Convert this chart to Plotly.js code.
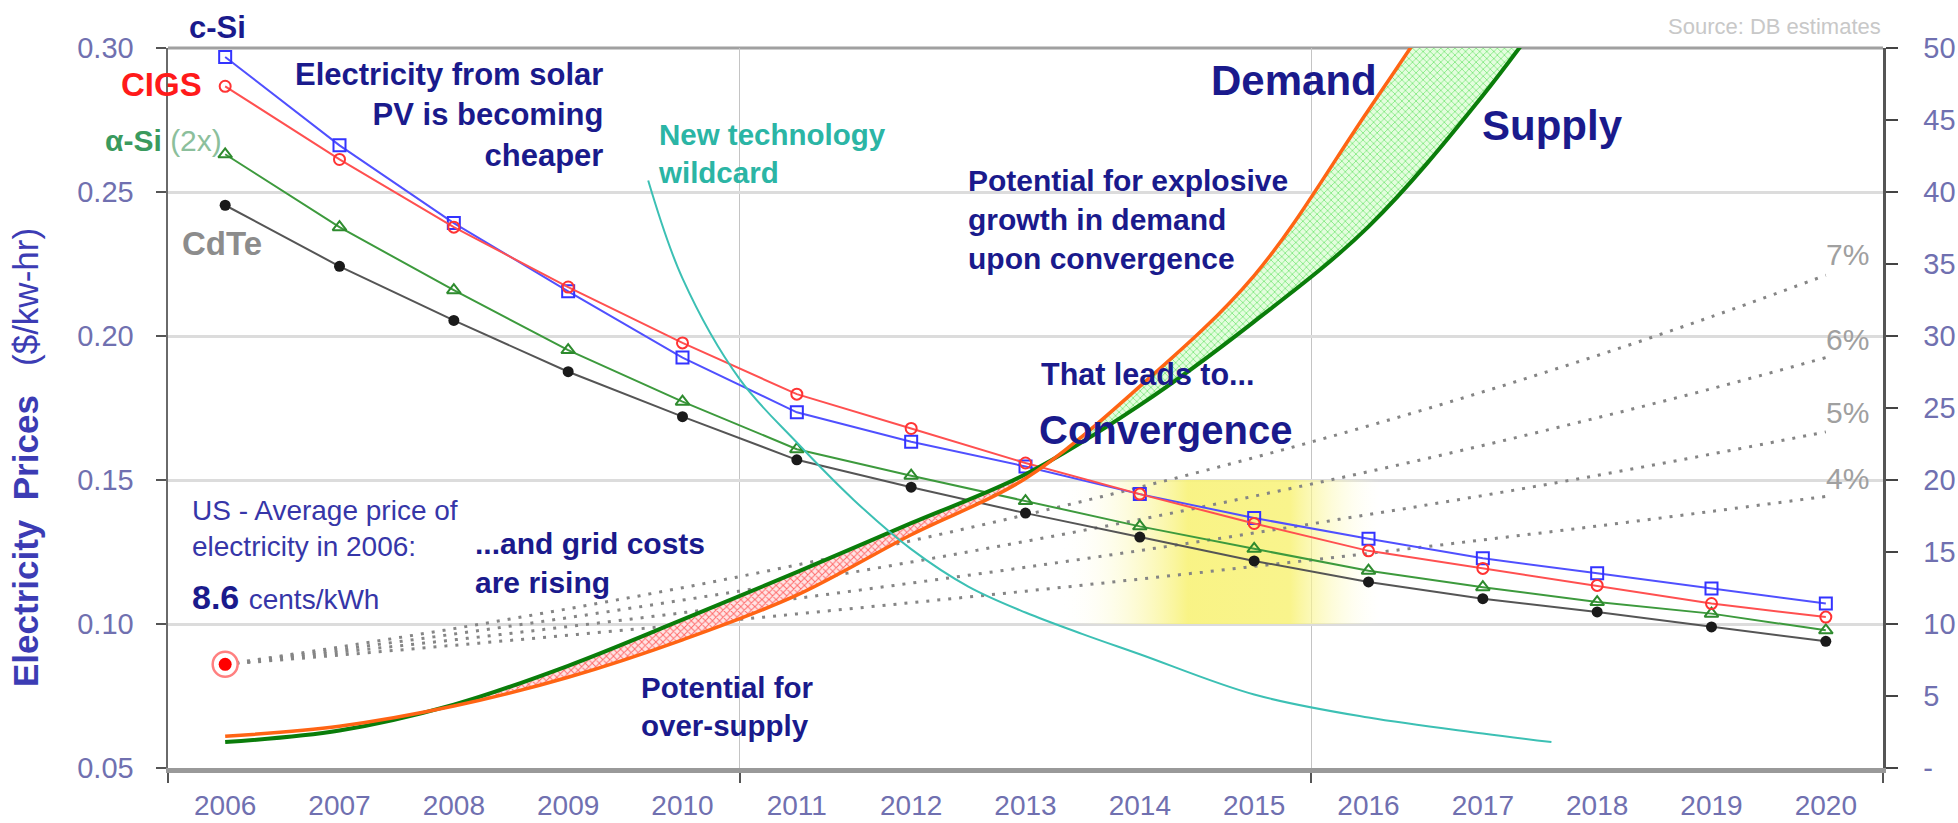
<!DOCTYPE html>
<html><head><meta charset="utf-8">
<script src="https://cdn.plot.ly/plotly-3.0.1.min.js"></script>
<style>html,body{margin:0;padding:0;background:#fff;}#chart{width:1958px;height:823px;}</style>
</head><body><div id="chart"></div>
<script>
// ---------------- DATA ----------------
const years = [2006,2007,2008,2009,2010,2011,2012,2013,2014,2015,2016,2017,2018,2019,2020];
const yearLabels = ['2006','2007','2008','2009','2010','2011','2012','2013','2014','2015','2016','2017','2018','2019','2020'];
const xGridTicks = [2005.5, 2010.5, 2015.5, 2020.5];

// Electricity prices ($/kw-hr), left axis
const cSi  = [0.2969,0.2662,0.2392,0.2155,0.1925,0.1735,0.1633,0.1547,0.1451,0.1368,0.1296,0.1228,0.1176,0.1123,0.1071];
const cigs = [0.2867,0.2613,0.2378,0.2170,0.1976,0.1798,0.1679,0.1559,0.1451,0.1349,0.1254,0.1193,0.1134,0.1071,0.1024];
const aSi  = [0.2631,0.2378,0.2159,0.1951,0.1772,0.1607,0.1515,0.1427,0.1339,0.1261,0.1185,0.1128,0.1076,0.1036,0.0978];
const cdTe = [0.2454,0.2242,0.2054,0.1876,0.1720,0.1570,0.1475,0.1385,0.1302,0.1219,0.1146,0.1088,0.1042,0.0990,0.0940];

// US average price 2006 and grid-cost growth paths (left axis)
const usYear = [2006];
const usPrice = [0.086];
const grid4 = [0.0860,0.0892,0.0926,0.0961,0.0997,0.1035,0.1074,0.1114,0.1156,0.1200,0.1245,0.1292,0.1340,0.1391,0.1443];
const grid5 = [0.0860,0.0902,0.0945,0.0991,0.1039,0.1089,0.1142,0.1197,0.1255,0.1316,0.1380,0.1446,0.1516,0.1590,0.1667];
const grid6 = [0.0860,0.0911,0.0965,0.1022,0.1083,0.1147,0.1215,0.1287,0.1363,0.1444,0.1529,0.1620,0.1716,0.1817,0.1925];
const grid7 = [0.0860,0.0920,0.0984,0.1053,0.1126,0.1205,0.1289,0.1379,0.1475,0.1578,0.1688,0.1806,0.1932,0.2067,0.2211];
const growthLabels = ['4%','5%','6%','7%'];

// Convergence zone (yellow glow)
const glowX = [2013.3, 2016.1];
const glowY = [0.10, 0.15];

// Demand / supply (right axis)
const supplyYears = [2006,2007,2008,2009,2010,2011,2012,2013,2014,2015,2016,2017,2018];
const supply      = [1.8, 2.6, 4.4, 7.1, 10.3, 13.6, 17.0, 20.4, 25.2, 31.0, 37.6, 46.7, 57.5];
const demandYears = [2006,2007,2008,2009,2010,2011,2012,2013,2014,2015,2016,2017];
const demand      = [2.2, 2.9, 4.3, 6.3, 8.9, 12.0, 16.2, 20.1, 26.5, 34.2, 45.7, 57.5];

// New technology wildcard (right axis)
const wildX = [2009.7, 2010, 2010.5, 2011, 2011.5, 2012, 2012.5, 2013, 2013.5, 2014, 2015, 2016, 2017, 2017.6];
const wildY = [40.8, 34.0, 27.0, 22.6, 18.6, 15.2, 12.6, 10.8, 9.3, 7.9, 5.1, 3.5, 2.4, 1.8];

const leftTicks = [0.05,0.10,0.15,0.20,0.25,0.30];
const rightTicks = [0,5,10,15,20,25,30,35,40,45,50];
const rightTickLabels = ['-','5','10','15','20','25','30','35','40','45','50'];

// ---------------- LAYOUT HELPERS ----------------
const L = 168, R = 1883, T = 48, B = 768;
const W = R - L, H = B - T;
const px = v => (v - L) / W;
const py = v => (B - v) / H;
const FONT = 'Liberation Sans, Arial, sans-serif';
const DARK = '#1a1a8c';
const TICKC = '#7070b0';

function ann(text, x, y, o) {
  o = o || {};
  return Object.assign({
    text: text, xref: 'paper', yref: 'paper', x: px(x), y: py(y),
    showarrow: false, xanchor: 'center', yanchor: 'middle',
    font: {family: FONT, size: o.size || 29, color: o.color || DARK}
  }, o.extra || {});
}

const sl = (arr, a, b) => arr.slice(a, b);
const i08 = years.indexOf(2008), i13 = years.indexOf(2013);

const traces = [];
// yellow glow
traces.push({
  x: [glowX[0], glowX[1], glowX[1], glowX[0], glowX[0]],
  y: [glowY[0], glowY[0], glowY[1], glowY[1], glowY[0]],
  mode: 'lines', line: {width: 0}, fill: 'toself',
  fillgradient: {type: 'horizontal', colorscale: [
    [0, 'rgba(255,255,255,0)'], [0.4, 'rgba(248,242,120,0.9)'],
    [0.72, 'rgba(248,242,120,0.85)'], [1, 'rgba(255,255,230,0)']]},
  xaxis: 'x', yaxis: 'y', hoverinfo: 'skip'
});
// growth dotted lines
[grid4, grid5, grid6, grid7].forEach(g => traces.push({
  x: years, y: g, mode: 'lines', line: {color: '#858585', width: 3, dash: '3px,8px', shape: 'spline'},
  xaxis: 'x', yaxis: 'y'
}));
// price series
traces.push({x: years, y: cdTe, mode: 'lines+markers', line: {color: '#555555', width: 2},
  marker: {symbol: 'circle', size: 11, color: '#1a1a1a'}, xaxis: 'x', yaxis: 'y'});
traces.push({x: years, y: aSi, mode: 'lines+markers', line: {color: '#3d9a3d', width: 2},
  marker: {symbol: 'triangle-up-open', size: 12, color: '#2e8b2e', line: {width: 2}}, xaxis: 'x', yaxis: 'y'});
traces.push({x: years, y: cSi, mode: 'lines+markers', line: {color: '#5050ff', width: 2},
  marker: {symbol: 'square-open', size: 12, color: '#3333ff', line: {width: 2}}, xaxis: 'x', yaxis: 'y'});
traces.push({x: years, y: cigs, mode: 'lines+markers', line: {color: '#ff5050', width: 2},
  marker: {symbol: 'circle-open', size: 11, color: '#ff3333', line: {width: 2}}, xaxis: 'x', yaxis: 'y'});
// US price dot
traces.push({x: usYear, y: usPrice, mode: 'markers',
  marker: {symbol: 'circle', size: 25, color: '#ffffff', line: {color: '#ff8080', width: 2.5}}, xaxis: 'x', yaxis: 'y'});
traces.push({x: usYear, y: usPrice, mode: 'markers',
  marker: {symbol: 'circle', size: 13, color: '#ff0000'}, xaxis: 'x', yaxis: 'y'});

// bands (right axis)
traces.push({x: sl(demandYears, i08, i13 + 1), y: sl(demand, i08, i13 + 1), mode: 'lines',
  line: {width: 0, shape: 'spline'}, xaxis: 'x', yaxis: 'y2'});
traces.push({x: sl(supplyYears, i08, i13 + 1), y: sl(supply, i08, i13 + 1), mode: 'lines',
  line: {width: 0, shape: 'spline'}, fill: 'tonexty', fillcolor: '#ffd8d8',
  fillpattern: {shape: 'x', size: 5, solidity: 0.35, fgcolor: '#ff6a6a', bgcolor: '#ffe4e4'},
  xaxis: 'x', yaxis: 'y2'});
traces.push({x: sl(supplyYears, i13), y: sl(supply, i13), mode: 'lines',
  line: {width: 0, shape: 'spline'}, xaxis: 'x', yaxis: 'y2'});
traces.push({x: sl(demandYears, i13), y: sl(demand, i13), mode: 'lines',
  line: {width: 0, shape: 'spline'}, fill: 'tonexty', fillcolor: '#d0f8c8',
  fillpattern: {shape: 'x', size: 5, solidity: 0.3, fgcolor: '#7ee87e', bgcolor: '#e4fdde'},
  xaxis: 'x', yaxis: 'y2'});
traces.push({x: supplyYears, y: supply, mode: 'lines', line: {color: '#0a7d0a', width: 4, shape: 'spline'},
  xaxis: 'x', yaxis: 'y2'});
traces.push({x: demandYears, y: demand, mode: 'lines', line: {color: '#ff6414', width: 3.5, shape: 'spline'},
  xaxis: 'x', yaxis: 'y2'});
traces.push({x: wildX, y: wildY, mode: 'lines', line: {color: '#3cc0b4', width: 2, shape: 'spline'},
  xaxis: 'x', yaxis: 'y2'});
// invisible trace to activate the year-label axis
traces.push({x: [years[0]], y: [cSi[0]], mode: 'markers', marker: {opacity: 0}, xaxis: 'x2', yaxis: 'y', hoverinfo: 'skip'});

const annotations = [
  ann('<b>c-Si</b>', 217, 27, {size: 31, color: '#1a1a8c'}),
  ann('<b>CIGS</b>', 161, 84, {size: 33, color: '#ff1a1a'}),
  ann('<b>α-Si</b> <span style="color:#8cbf9c;font-weight:normal">(2x)</span>', 224, 140,
      {size: 30, color: '#3a9a5e', extra: {xanchor: 'right'}}),
  ann('<b>CdTe</b>', 222, 243, {size: 33, color: '#8c8c8c'}),
  ann('<b>Electricity from solar<br>PV is becoming<br>cheaper</b>', 605, 115,
      {size: 31, extra: {xanchor: 'right', align: 'right'}}),
  ann('<b>New technology<br>wildcard</b>', 656, 153, {size: 29.5, color: '#2bb5a5', extra: {xanchor: 'left', align: 'left'}}),
  ann('<b>Demand</b>', 1294, 81, {size: 42}),
  ann('<b>Supply</b>', 1552, 126, {size: 42}),
  ann('<b>Potential for explosive<br>growth in demand<br>upon convergence</b>', 966, 219,
      {size: 30, extra: {xanchor: 'left', align: 'left'}}),
  ann('<b>That leads to...</b>', 1039, 374, {size: 30.5, extra: {xanchor: 'left'}}),
  ann('<b>Convergence</b>', 1037, 430, {size: 40, extra: {xanchor: 'left'}}),
  ann('US - Average price of<br>electricity in 2006:', 190, 528,
      {size: 28, color: '#3636a8', extra: {xanchor: 'left', align: 'left'}}),
  ann('<b>8.6</b> <span style="font-size:28px;color:#3636a8">cents/kWh</span>', 190, 597,
      {size: 34, extra: {xanchor: 'left'}}),
  ann('<b>...and grid costs<br>are rising</b>', 473, 563, {size: 30, extra: {xanchor: 'left', align: 'left'}}),
  ann('<b>Potential for<br>over-supply</b>', 639, 706, {size: 29.5, extra: {xanchor: 'left', align: 'left'}}),
  ann(growthLabels[3], 1871, 254, {size: 30, color: '#a0a0a0', extra: {xanchor: 'right'}}),
  ann(growthLabels[2], 1871, 339, {size: 30, color: '#a0a0a0', extra: {xanchor: 'right'}}),
  ann(growthLabels[1], 1871, 412, {size: 30, color: '#a0a0a0', extra: {xanchor: 'right'}}),
  ann(growthLabels[0], 1871, 478, {size: 30, color: '#a0a0a0', extra: {xanchor: 'right'}}),
  ann('Source: DB estimates', 1883, 26, {size: 22, color: '#c8c8c8', extra: {xanchor: 'right'}}),
  ann('<b>Electricity  Prices</b>   ($/kw-hr)', 25, 458, {size: 35, color: '#3c3cb4', extra: {textangle: -90}})
];

const layout = {
  width: 1958, height: 823,
  margin: {l: L, r: 1958 - R, t: T, b: 823 - B, pad: 0},
  paper_bgcolor: '#ffffff', plot_bgcolor: '#ffffff',
  showlegend: false,
  font: {family: FONT, color: TICKC},
  xaxis: {
    range: [2005.5, 2020.5], tickvals: xGridTicks, showticklabels: false,
    ticks: 'outside', ticklen: 10, tickwidth: 2, tickcolor: '#555',
    showgrid: true, gridcolor: '#c4c4c4', gridwidth: 1.5, zeroline: false,
    showline: true, linecolor: '#999999', linewidth: 5, fixedrange: true
  },
  xaxis2: {
    overlaying: 'x', side: 'bottom', range: [2005.5, 2020.5],
    tickvals: years, ticktext: yearLabels, ticks: 'outside', ticklen: 12, tickcolor: 'rgba(0,0,0,0)',
    showgrid: false, zeroline: false, showline: false,
    tickfont: {family: FONT, size: 28, color: TICKC}, fixedrange: true
  },
  yaxis: {
    range: [0.05, 0.30], tickvals: leftTicks, tickformat: '.2f',
    ticks: 'outside', ticklen: 10, tickwidth: 2, tickcolor: '#555',
    ticklabelstandoff: 16,
    showgrid: true, gridcolor: '#dcdcdc', gridwidth: 3, zeroline: false,
    showline: true, linecolor: '#6a6a6a', linewidth: 2.5,
    tickfont: {family: FONT, size: 29, color: TICKC}, fixedrange: true
  },
  yaxis2: {
    overlaying: 'y', side: 'right', range: [0, 50], tickvals: rightTicks, ticktext: rightTickLabels,
    ticks: 'outside', ticklen: 12, tickwidth: 2, tickcolor: '#444',
    ticklabelstandoff: 20,
    showgrid: false, zeroline: false, showline: true, linecolor: '#555', linewidth: 2.5,
    tickfont: {family: FONT, size: 29, color: TICKC}, fixedrange: true
  },
  shapes: [
    {type: 'line', xref: 'paper', yref: 'paper', x0: 0, x1: 1, y0: 1, y1: 1,
     line: {color: '#a0a0a0', width: 3}, layer: 'below'}
  ],
  annotations: annotations
};

Plotly.newPlot('chart', traces, layout, {staticPlot: true, displayModeBar: false});
</script>
</body></html>
